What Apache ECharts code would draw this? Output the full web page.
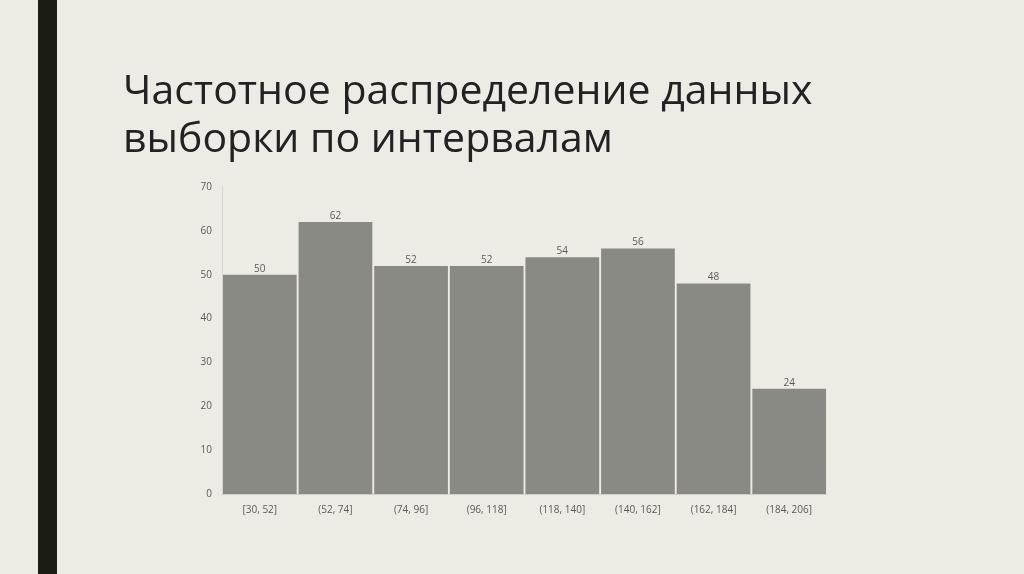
<!DOCTYPE html>
<html><head><meta charset="utf-8">
<script src="https://cdn.jsdelivr.net/npm/echarts@6/dist/echarts.min.js"></script>
<style>html,body{margin:0;padding:0;background:#eeebe4;}#c{width:1024px;height:574px;}</style>
</head><body><div id="c"></div>
<script>
const categories = ['[30, 52]', '(52, 74]', '(74, 96]', '(96, 118]', '(118, 140]', '(140, 162]', '(162, 184]', '(184, 206]'];
const frequencies = [50, 62, 52, 52, 54, 56, 48, 24];
const titleLines = ['Частотное распределение данных', 'выборки по интервалам'];

const chart = echarts.init(document.getElementById('c'), null, {renderer: 'canvas'});
chart.setOption({
  backgroundColor: '#eeebe4',
  animation: false,
  graphic: [{
    type: 'rect', left: 38, top: 0, shape: {width: 19, height: 574},
    style: {fill: '#1c1c14'}
  }],
  title: {
    text: titleLines.join('\n'),
    left: 118, top: 63,
    textStyle: {fontFamily: 'Open Sans', fontSize: 41, fontWeight: 'normal', color: '#222222', lineHeight: 48}
  },
  grid: {left: 222, right: 197, top: 187, bottom: 80},
  xAxis: {
    type: 'category', data: categories,
    axisLine: {show: true, lineStyle: {color: '#d0cec8'}},
    axisTick: {show: false},
    axisLabel: {color: '#595959', fontSize: 10, fontFamily: 'Open Sans', margin: 11}
  },
  yAxis: {
    type: 'value', min: 0, max: 70, interval: 10,
    axisLine: {show: true, lineStyle: {color: '#d9d9d4'}},
    axisTick: {show: false},
    splitLine: {show: false},
    axisLabel: {color: '#595959', fontSize: 10, fontFamily: 'Open Sans', margin: 10}
  },
  series: [{
    type: 'bar', data: frequencies,
    barCategoryGap: '2.5%',
    itemStyle: {color: '#8a8a84'},
    label: {show: true, position: 'top', color: '#595959', fontSize: 10, fontFamily: 'Open Sans', distance: 1}
  }]
});
</script></body></html>
